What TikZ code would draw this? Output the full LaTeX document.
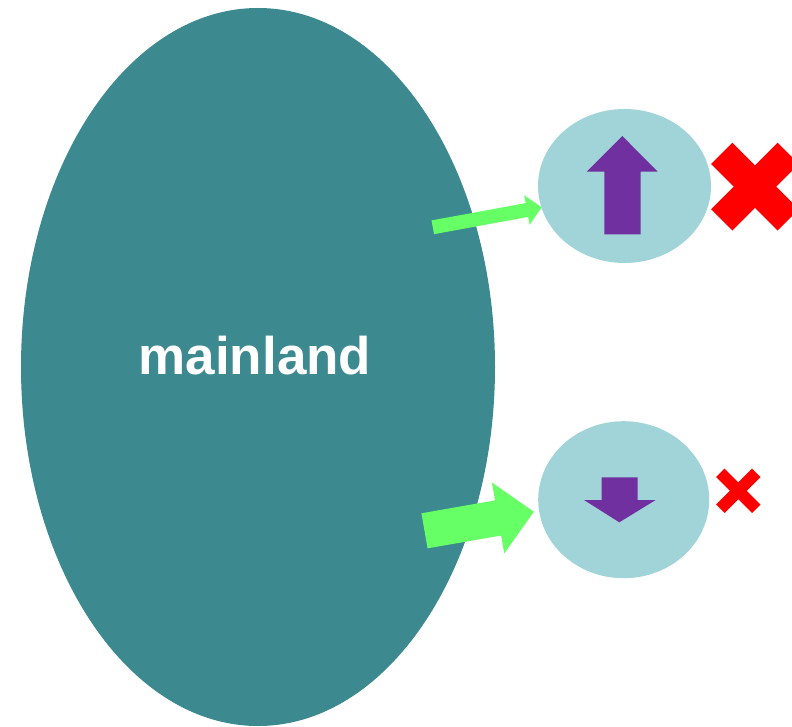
\documentclass[tikz,border=0pt]{standalone}
\usepackage{fontspec}
\setmainfont{Liberation Sans}
\usetikzlibrary{shapes.geometric}
\definecolor{teal1}{HTML}{3C8A90}
\definecolor{lightc}{HTML}{A0D4D8}
\definecolor{purp}{HTML}{7030A0}
\definecolor{grn}{HTML}{66FF66}
\definecolor{redx}{HTML}{FF0000}
\tikzset{
  blob/.style={ellipse, fill=#1, draw=none, inner sep=0pt},
  purparrow/.style={fill=purp, draw=none},
  grnarrow/.style={fill=grn, draw=none},
  crossarm/.style={fill=redx, draw=none}
}
\begin{document}
\begin{tikzpicture}[x=1pt,y=-1pt]
\useasboundingbox (0,0) rectangle (792,727);
% main ellipse
\node[blob=teal1, minimum width=474pt, minimum height=718pt] (main) at (258,367) {};
\node[text=white, font=\bfseries\fontsize{53}{60}\selectfont] (lbl) at (255,356) {mainland};
% small ellipses
\node[blob=lightc, minimum width=173pt, minimum height=154pt] (up) at (624.5,186) {};
\node[blob=lightc, minimum width=171pt, minimum height=157pt] (down) at (623.7,499.7) {};
% up arrow
\fill[purparrow] (604.3,234.3) -- (604.3,171.7) -- (586.7,171.7) -- (622.3,136) -- (657.7,171.7) -- (640.7,171.7) -- (640.7,234.3) -- cycle;
% down arrow
\fill[purparrow] (601.7,477.3) -- (637.7,477.3) -- (637.7,500) -- (655.7,500) -- (619.3,522.3) -- (584,500) -- (601.7,500) -- cycle;
% green arrows
\begin{scope}[shift={(432.8,227.3)}, rotate=10.4]
\fill[grnarrow] (0,-7) -- (95.7,-7) -- (95.7,-15) -- (110.7,0) -- (95.7,15) -- (95.7,7) -- (0,7) -- cycle;
\end{scope}
\begin{scope}[shift={(424.5,530.8)}, rotate=9.9]
\fill[grnarrow] (0,-17.8) -- (74.7,-17.8) -- (74.7,-36) -- (111,0) -- (74.7,36) -- (74.7,17.8) -- (0,17.8) -- cycle;
\end{scope}
% red crosses
\fill[crossarm, rotate around={45:(755,186.7)}] (708,171.7) rectangle (802,201.7);
\fill[crossarm, rotate around={-45:(755,186.7)}] (708,171.7) rectangle (802,201.7);
\fill[crossarm, rotate around={45:(738.3,490.8)}] (712.9,484.8) rectangle (763.7,496.8);
\fill[crossarm, rotate around={-45:(738.3,490.8)}] (712.9,484.8) rectangle (763.7,496.8);
\end{tikzpicture}
\end{document}
